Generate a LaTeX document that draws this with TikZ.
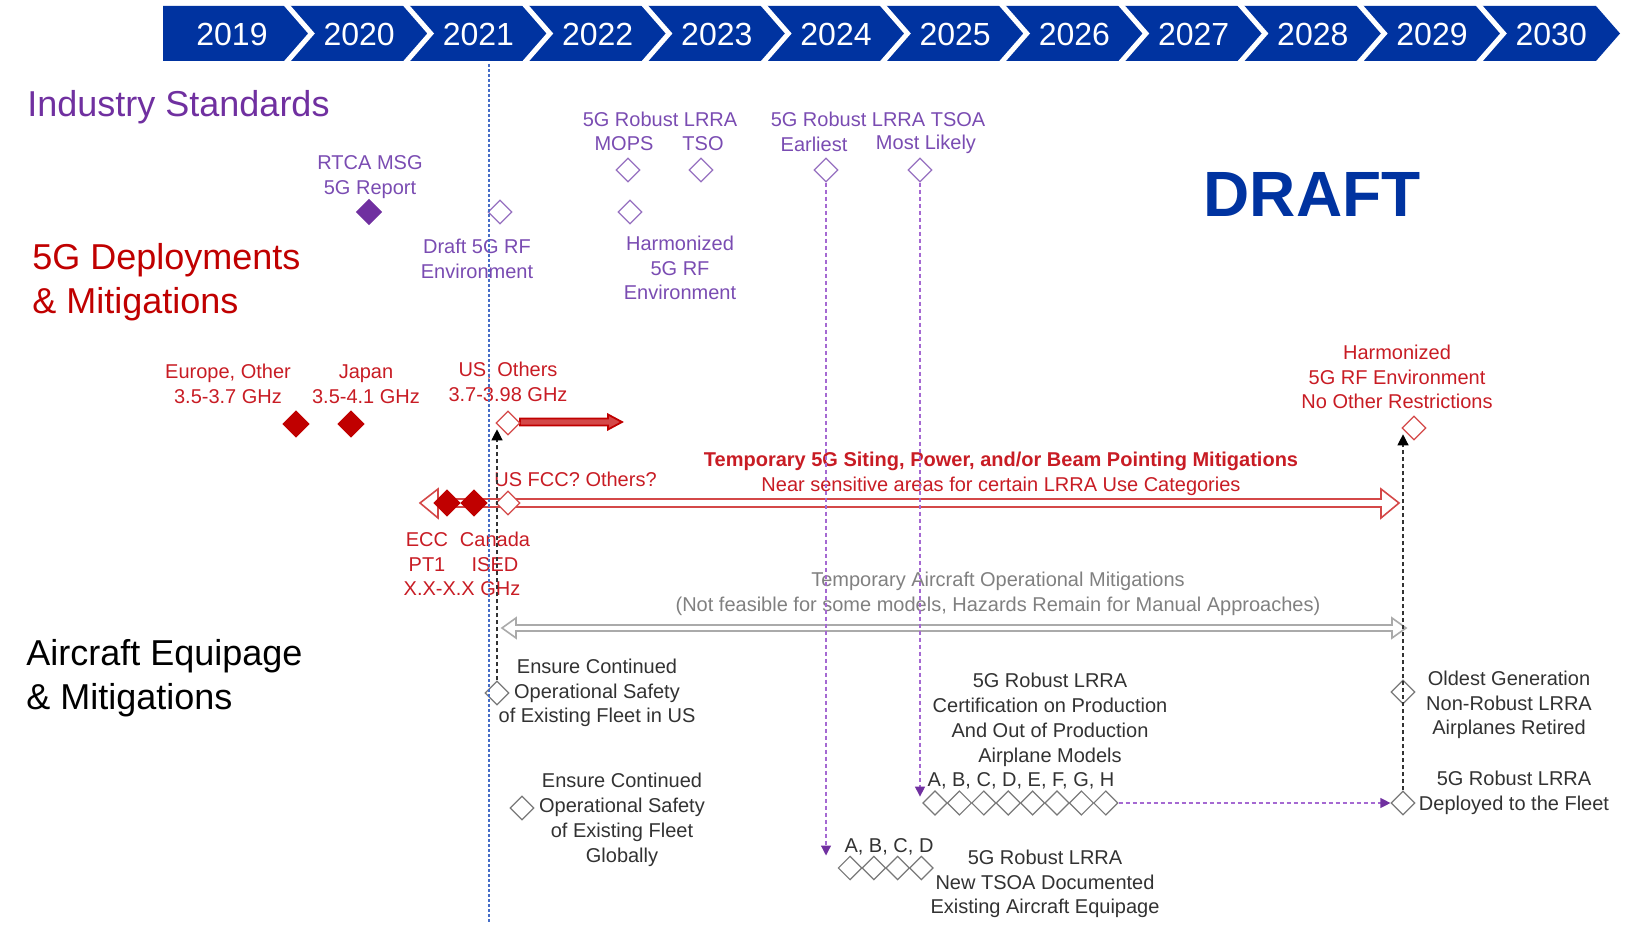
\documentclass[tikz,border=0pt]{standalone}
\usepackage{fontspec}
\setmainfont{Liberation Sans}
\usetikzlibrary{shapes.geometric,arrows.meta,positioning}
\definecolor{tlblue}{RGB}{0,51,160}
\definecolor{stdpurple}{RGB}{112,48,160}
\definecolor{lblpurple}{RGB}{122,76,178}
\definecolor{dmdpurple}{RGB}{150,112,192}
\definecolor{deplred}{RGB}{192,0,0}
\definecolor{lblred}{RGB}{200,28,36}
\definecolor{arrred}{RGB}{212,72,72}
\definecolor{acgray}{RGB}{50,50,50}
\definecolor{tmpgray}{RGB}{128,128,128}
\definecolor{arrgray}{RGB}{170,170,170}
\definecolor{dmdgray}{RGB}{120,120,120}
\definecolor{nowblue}{RGB}{70,110,200}
\definecolor{lnpurple}{RGB}{165,105,210}
\tikzset{
  dmd/.style={diamond, draw, inner sep=0pt, minimum width=12pt, minimum height=12pt, line width=0.6pt},
  lbl/.style={align=center, inner sep=0pt, font=\fontsize{10}{12.4}\selectfont},
  hdg/.style={align=left, inner sep=0pt, anchor=west, font=\fontsize{18}{21.8}\selectfont},
  yr/.style={text=white, inner sep=0pt, font=\fontsize{16}{16}\selectfont},
  pline/.style={lnpurple, line width=0.6pt, dash pattern=on 2pt off 1.5pt,
    -{Triangle[width=5pt,length=5pt,color=stdpurple]}},
  kline/.style={acgray, line width=0.6pt, dash pattern=on 2pt off 1.5pt,
    -{Triangle[width=5.5pt,length=5.5pt,color=black]}},
}
\begin{document}
\begin{tikzpicture}[x=0.5pt,y=-0.5pt]
\useasboundingbox (0,0) rectangle (1626,930);
% year band
\fill[tlblue] (163,6) -- (1596,6) -- (1620,33.5) -- (1596,61) -- (163,61) -- cycle;
\begin{scope}
\clip (163,6) rectangle (1626,61);
\foreach \i in {0,...,10}{
  \pgfmathsetmacro\tp{309+119.2*\i}
  \draw[white, line width=2.5pt] (\tp-26.3,0.5) -- (\tp+2.5,33.5) -- (\tp-26.3,66.5);
}
\end{scope}
\foreach \yr [count=\i from 0] in {2019,...,2030}{
  \pgfmathsetmacro\cx{\i==0 ? 232 : 309+119.2*\i-69}
  \node[yr] (y\yr) at (\cx,34) {\yr};
}
% headings
\node[hdg, text=stdpurple] (hdStd) at (27,107) {Industry Standards};
\node[hdg, text=deplred] (hdDep) at (32,282) {5G Deployments\\\& Mitigations};
\node[hdg, text=black] (hdAir) at (26,678) {Aircraft Equipage\\\& Mitigations};
\node[text=tlblue, font=\fontsize{32}{32}\selectfont\bfseries] (draft) at (1312,194) {DRAFT};
% hollow arrows
\draw[arrred, line width=0.8pt, fill=white] (420,503) -- (438,489) -- (438,499) -- (1381,499)
  -- (1381,489) -- (1399,503) -- (1381,518) -- (1381,507) -- (438,507) -- (438,518) -- cycle;
\draw[arrgray, line width=0.8pt, fill=white] (502,628) -- (516,618) -- (516,625) -- (1392,625)
  -- (1392,618) -- (1406,628) -- (1392,638) -- (1392,631) -- (516,631) -- (516,638) -- cycle;
\draw[deplred, line width=0.9pt, fill=arrred] (520,418.5) -- (608,418.5) -- (608,414.5) -- (622,422)
  -- (608,429.5) -- (608,425.5) -- (520,425.5) -- cycle;
% industry standards
\node[dmd, draw=stdpurple, fill=stdpurple, minimum width=12.5pt, minimum height=12.5pt] (rtcaD) at (369,212) {};
\node[lbl, text=lblpurple] (rtcaL) at (370,177) {RTCA MSG\\5G Report};
\node[dmd, draw=dmdpurple] (draftD) at (500,212) {};
\node[lbl, text=lblpurple] (draftL) at (477,259) {Draft 5G RF\\Environment};
\node[dmd, draw=dmdpurple] (mopsD) at (628,170) {};
\node[dmd, draw=dmdpurple] (tsoD) at (701,170) {};
\node[lbl, text=lblpurple] (lrraL) at (660,119) {5G Robust LRRA};
\node[lbl, text=lblpurple] (mopsL) at (624,144) {MOPS};
\node[lbl, text=lblpurple] (tsoL) at (703,144) {TSO};
\node[dmd, draw=dmdpurple] (harmD) at (630,212) {};
\node[lbl, text=lblpurple] (harmL) at (680,268) {Harmonized\\5G RF\\Environment};
\node[dmd, draw=dmdpurple] (tsoaE) at (826,170) {};
\node[dmd, draw=dmdpurple] (tsoaM) at (920,170) {};
\node[lbl, text=lblpurple] (tsoaL) at (878,119) {5G Robust LRRA TSOA};
\node[lbl, text=lblpurple] (earlyL) at (814,144) {Earliest};
\node[lbl, text=lblpurple] (likelyL) at (926,144) {Most Likely};
% 5G deployments
\node[dmd, draw=deplred, fill=deplred, minimum width=13pt, minimum height=13pt] (eurD) at (296,424) {};
\node[lbl, text=lblred] (eurL) at (228,384) {Europe, Other\\3.5-3.7 GHz};
\node[dmd, draw=deplred, fill=deplred, minimum width=13pt, minimum height=13pt] (jpD) at (351,424) {};
\node[lbl, text=lblred] (jpL) at (366,384) {Japan\\3.5-4.1 GHz};
\node[dmd, draw=arrred, fill=white] (usD) at (508,423) {};
\node[lbl, text=lblred] (usL) at (508,382) {US, Others\\3.7-3.98 GHz};
\node[lbl, text=lblred, anchor=west] (fccL) at (494,479) {US FCC? Others?};
\node[dmd, draw=deplred, fill=deplred, minimum width=13pt, minimum height=13pt] (eccD) at (447,503) {};
\node[dmd, draw=deplred, fill=deplred, minimum width=13pt, minimum height=13pt] (canD) at (474,503) {};
\node[dmd, draw=arrred, fill=white] (fccD) at (508,503) {};
\node[lbl, text=lblred] (eccL) at (427,552) {ECC\\PT1};
\node[lbl, text=lblred] (canL) at (495,552) {Canada\\ISED};
\node[lbl, text=lblred] (ghzL) at (462,589) {X.X-X.X GHz};
\node[lbl, text=lblred] (sitingL) at (1001,473.5) {\textbf{Temporary 5G Siting, Power, and/or Beam Pointing Mitigations}\\Near sensitive areas for certain LRRA Use Categories};
\node[dmd, draw=arrred] (hrfD) at (1414,428) {};
\node[lbl, text=lblred] (hrfL) at (1397,377) {Harmonized\\5G RF Environment\\No Other Restrictions};
% aircraft equipage
\node[lbl, text=tmpgray] (tmpL) at (998,594) {Temporary Aircraft Operational Mitigations\\(Not feasible for some models, Hazards Remain for Manual Approaches)};
\node[dmd, draw=dmdgray] (usfleetD) at (497,693) {};
\node[lbl, text=acgray] (usfleetL) at (597,693) {Ensure Continued\\Operational Safety\\of Existing Fleet in US};
\node[dmd, draw=dmdgray] (globD) at (522,808) {};
\node[lbl, text=acgray] (globL) at (622,820) {Ensure Continued\\Operational Safety\\of Existing Fleet\\Globally};
\node[lbl, text=acgray] (certL) at (1050,720) {5G Robust LRRA\\Certification on Production\\And Out of Production\\Airplane Models};
\node[lbl, text=acgray] (ghL) at (1021,781) {A, B, C, D, E, F, G, H};
\foreach \k in {1,...,8}
  \node[dmd, draw=dmdgray, minimum width=12.2pt, minimum height=12.2pt] (gh\k) at ({935+24.4*(\k-1)},803) {};
\node[lbl, text=acgray] (abcdL) at (889,847) {A, B, C, D};
\foreach \k in {1,...,4}
  \node[dmd, draw=dmdgray, minimum width=11.9pt, minimum height=11.9pt] (abcd\k) at ({850+23.8*(\k-1)},868) {};
\node[lbl, text=acgray] (newL) at (1045,884) {5G Robust LRRA\\New TSOA Documented\\Existing Aircraft Equipage};
\node[dmd, draw=dmdgray] (oldD) at (1403,692) {};
\node[lbl, text=acgray] (oldL) at (1509,705) {Oldest Generation\\Non-Robust LRRA\\Airplanes Retired};
\node[dmd, draw=dmdgray] (fleetD) at (1403,803) {};
\node[lbl, text=acgray] (fleetL) at (1514,793) {5G Robust LRRA\\Deployed to the Fleet};
% today line and links
\coordinate (nowTop) at (489,64);
\coordinate (nowBot) at (489,923);
\draw[nowblue, line width=0.6pt, dash pattern=on 1.5pt off 1pt] (nowTop) -- (nowBot);
\draw[pline] (tsoaE.south) -- (tsoaE.south |- abcd1.north);
\draw[pline] (tsoaM.south) -- (tsoaM.south |- gh1.north west);
\draw[pline] (gh8.east) -- (fleetD.west);
\draw[kline] (usfleetD.north) -- (usfleetD.north |- usD.south west);
\draw[kline] (fleetD.north) -- (fleetD.north |- hrfD.south west);
\end{tikzpicture}
\end{document}
